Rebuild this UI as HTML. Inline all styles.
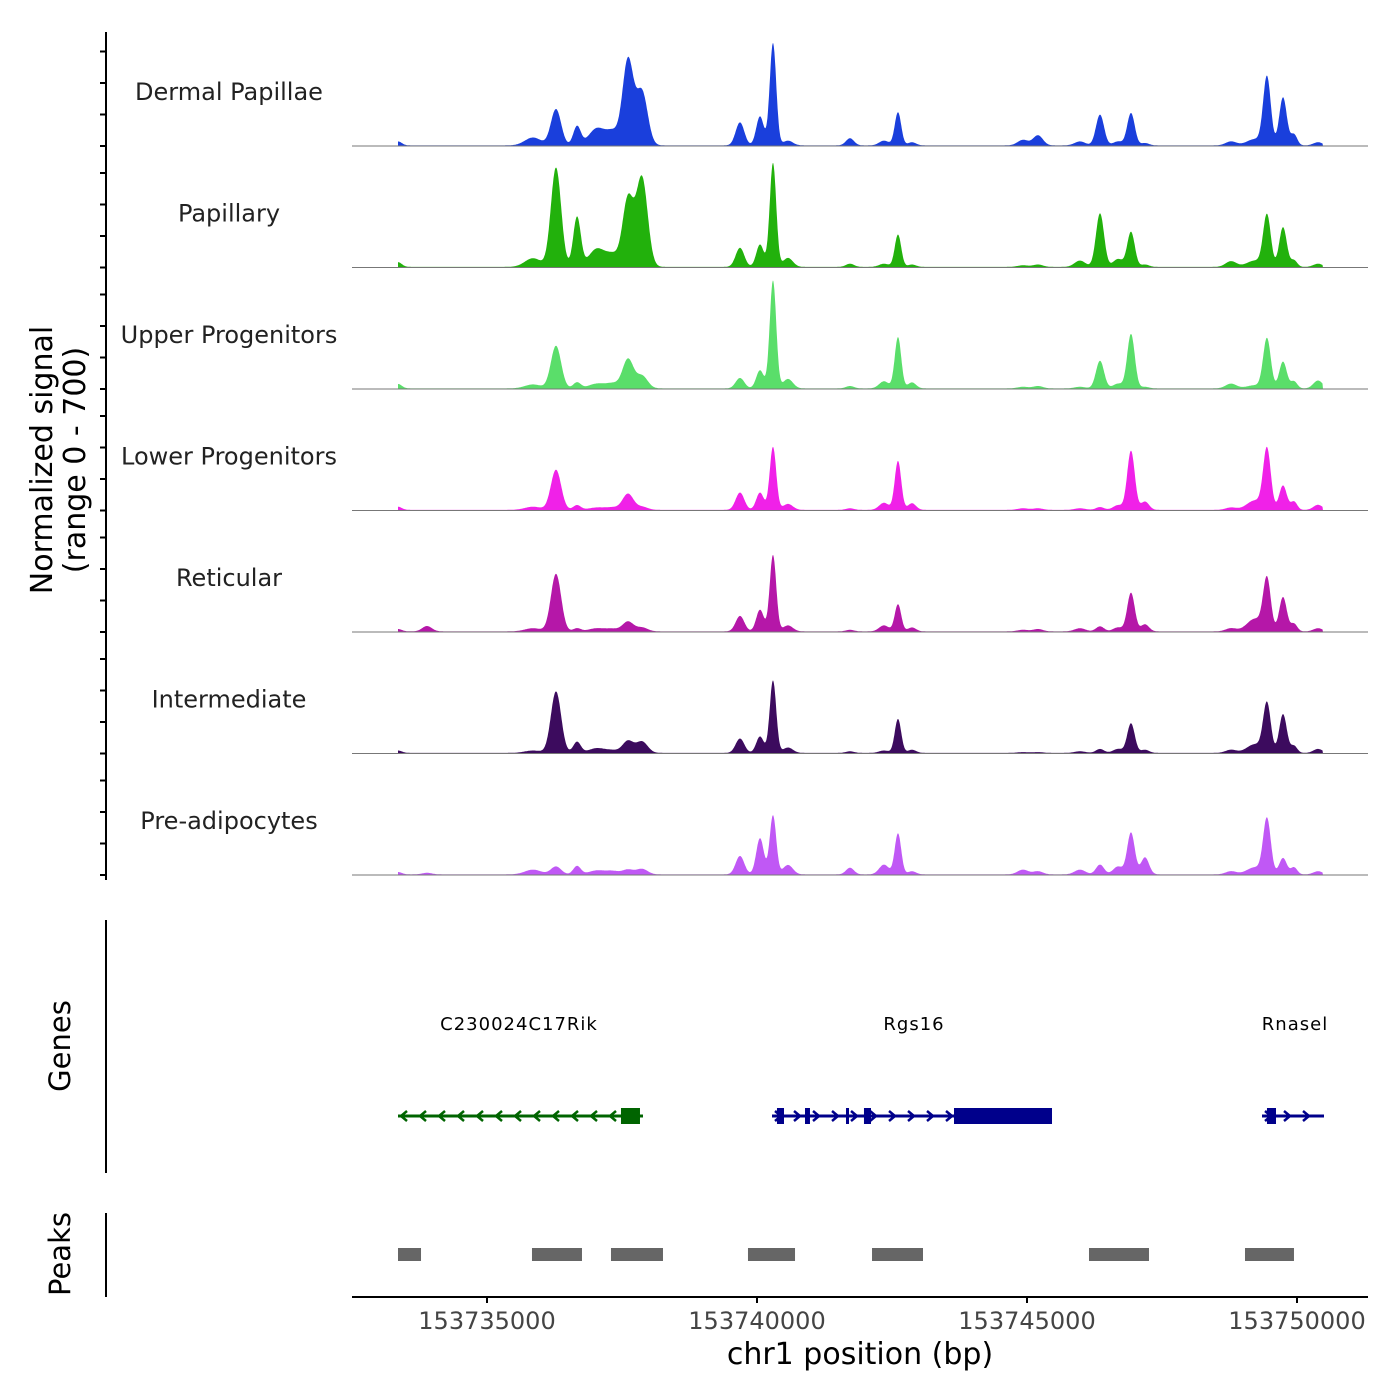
<!DOCTYPE html>
<html><head><meta charset="utf-8"><style>
html,body{margin:0;padding:0;background:#fff;}
svg{display:block;font-family:"DejaVu Sans","Liberation Sans",sans-serif;}
</style></head><body>
<svg id="chart" width="1400" height="1400" viewBox="0 0 1400 1400" xmlns="http://www.w3.org/2000/svg"></svg>
<script>
// ---- data ----
const trackNames = ["Dermal Papillae","Papillary","Upper Progenitors","Lower Progenitors","Reticular","Intermediate","Pre-adipocytes"];
const trackColors = ["#1a3fdc","#22b10c","#5ade6a","#f021e8","#b517a8","#3c0b5e","#c058f5"];
const peakLoci = [153733352,153733889,153735852,153736278,153736667,153737037,153737333,153737611,153737870,153739685,153740056,153740296,153740574,153741722,153742352,153742611,153742870,153744926,153745204,153745981,153746352,153746685,153746926,153747185,153748778,153749222,153749444,153749741,153749944,153750389];
const peakWidths = [70,90,150,95,70,150,120,100,105,80,70,60,90,75,90,60,75,100,90,100,75,90,70,75,100,150,70,70,60,85];
const dermalPapillae = [25,0,50,230,120,108,80,540,340,146,184,650,30,45,30,210,20,35,64,25,195,25,205,15,25,40,430,305,70,20];
const papillary = [30,0,55,630,315,115,70,430,565,121,142,660,57,20,20,205,15,10,15,40,340,50,222,15,36,40,325,252,42,20];
const upperProgenitors = [28,0,25,270,38,30,30,185,80,66,115,685,60,15,45,325,38,10,15,10,175,30,345,10,30,20,315,170,45,50];
const lowerProgenitors = [20,0,20,255,30,15,15,102,20,110,110,400,38,10,45,310,42,10,10,10,18,30,375,53,15,60,380,155,53,32];
const reticular = [15,34,20,365,20,20,15,62,25,98,138,485,38,10,38,172,25,10,15,20,32,25,245,45,20,80,325,218,49,20];
const intermediate = [15,0,15,390,70,30,15,76,72,91,104,460,34,10,15,215,20,5,5,10,25,25,187,20,20,55,308,246,45,25];
const preAdipocytes = [15,10,30,50,53,25,20,30,35,117,230,375,60,42,62,260,20,30,20,30,62,50,265,108,20,45,348,104,45,20];
const trackValues = [dermalPapillae,papillary,upperProgenitors,lowerProgenitors,reticular,intermediate,preAdipocytes];
const signalStart = 153733352, signalEnd = 153750481;
const xTicks = [153735000,153740000,153745000,153750000];
const yTicks = [0,200,400,600];
const geneNames = ["C230024C17Rik","Rgs16","Rnasel"];
const geneStarts = [153733352,153740278,153749352];
const geneEnds = [153737889,153745463,153750500];
const geneStrands = [-1,1,1];
const geneExons = [[[153737481,153737833]],[[153740370,153740500],[153740889,153740981],[153741648,153741704],[153741981,153742111],[153743648,153745463]],[[153749444,153749611]]];
const peakStarts = [153733352,153735833,153737296,153739833,153742130,153746148,153749037];
const peakEnds = [153733778,153736759,153738259,153740704,153743074,153747259,153749944];

// ---- scales ----
const X0=487, PXPERBP=270/5000;
function xs(bp){return X0+(bp-153735000)*PXPERBP;}
const baselines=[146,267.5,389,510.5,632,753.5,875];
const VSCALE=0.1575;
function ys(t,v){return baselines[t]-v*VSCALE;}

const svg=document.getElementById('chart');
const NS="http://www.w3.org/2000/svg";
function el(tag,attrs,parent){const e=document.createElementNS(NS,tag);for(const k in attrs)e.setAttribute(k,attrs[k]);(parent||svg).appendChild(e);return e;}

// y axis title
const yt=el('text',{x:0,y:0,'font-size':30,'text-anchor':'middle',fill:'#000',transform:'translate(52,460) rotate(-90)'});


yt.textContent='Normalized signal';
const yt2=el('text',{x:0,y:0,'font-size':30,'text-anchor':'middle',fill:'#000',transform:'translate(85,460) rotate(-90)'});


yt2.textContent='(range 0 - 700)';

// left axis
const la=el('line',{x1:106,y1:32,x2:106,y2:880,stroke:'#000','stroke-width':2});



for(let t=0;t<trackNames.length;t++){
  const g=el('g',{});
  
  
  yTicks.forEach(v=>{el('line',{x1:100,x2:106,y1:ys(t,v),y2:ys(t,v),stroke:'#000','stroke-width':2},g);});
  const lab=el('text',{x:229,y:baselines[t]-46,'font-size':24,'text-anchor':'middle',fill:'#222'},g);
  
  
  lab.textContent=trackNames[t];
  const vals=trackValues[t];
  let d='M'+xs(signalStart).toFixed(1)+','+baselines[t];
  for(let bp=signalStart;bp<=signalEnd;bp+=10){
    let v=4;
    for(let i=0;i<peakLoci.length;i++){const z=(bp-peakLoci[i])/peakWidths[i];if(Math.abs(z)<5)v+=vals[i]*Math.exp(-0.5*z*z);}
    d+='L'+xs(bp).toFixed(1)+','+ys(t,v).toFixed(1);
  }
  d+='L'+xs(signalEnd).toFixed(1)+','+baselines[t]+'Z';
  const p=el('path',{d:d,fill:trackColors[t],stroke:'none'},g);
  
  
  const bl=el('line',{x1:352,x2:1368,y1:baselines[t],y2:baselines[t],stroke:'#777','stroke-width':1},g);
  
  
}

// genes panel
const ga=el('line',{x1:106,y1:920,x2:106,y2:1173,stroke:'#000','stroke-width':2});


const gt=el('text',{x:0,y:0,'font-size':29,'text-anchor':'middle',fill:'#000',transform:'translate(70,1046) rotate(-90)'});


gt.textContent='Genes';
const geneColors=['#006400','#00008b','#00008b'];
const GY=1116;
for(let i=0;i<geneNames.length;i++){
  const g=el('g',{});
  
  
  const c=geneColors[i], x1=xs(geneStarts[i]), x2=xs(geneEnds[i]);
  const lab=el('text',{x:(i==0?519:(i==1?914:1295)),y:1030,'font-size':18,'letter-spacing':'1','text-anchor':'middle',fill:'#000'},g);
  
  
  lab.textContent=geneNames[i];
  el('line',{x1:x1,x2:x2,y1:GY,y2:GY,stroke:c,'stroke-width':3},g);
  const s=geneStrands[i];
  for(let x=x1+3;x<x2-2;x+=19){
    const tip=s<0?x:x+6, back=s<0?x+6:x;
    el('polyline',{points:back+','+(GY-5)+' '+tip+','+GY+' '+back+','+(GY+5),fill:'none',stroke:c,'stroke-width':2.5},g);
  }
  geneExons[i].forEach(e=>{
    const r=el('rect',{x:xs(e[0]),y:GY-8,width:Math.max(3,xs(e[1])-xs(e[0])),height:16,fill:c},g);
    
    
  });
}

// peaks panel
const pa=el('line',{x1:106,y1:1213,x2:106,y2:1297,stroke:'#000','stroke-width':2});


const pt=el('text',{x:0,y:0,'font-size':29,'text-anchor':'middle',fill:'#000',transform:'translate(70,1254) rotate(-90)'});


pt.textContent='Peaks';
for(let i=0;i<peakStarts.length;i++){
  const r=el('rect',{x:xs(peakStarts[i]),y:1248,width:xs(peakEnds[i])-xs(peakStarts[i]),height:13,fill:'#666'});
  
  
}

// x axis
const xa=el('line',{x1:352,x2:1368,y1:1297,y2:1297,stroke:'#000','stroke-width':2});


xTicks.forEach(v=>{
  el('line',{x1:xs(v),x2:xs(v),y1:1297,y2:1303,stroke:'#000','stroke-width':2});
  const t=el('text',{x:xs(v),y:1329,'font-size':24,'text-anchor':'middle',fill:'#444'});
  
  
  t.textContent=v;
});
const xt=el('text',{x:860,y:1364,'font-size':30,'text-anchor':'middle',fill:'#000'});


xt.textContent='chr1 position (bp)';
</script>
</body></html>
